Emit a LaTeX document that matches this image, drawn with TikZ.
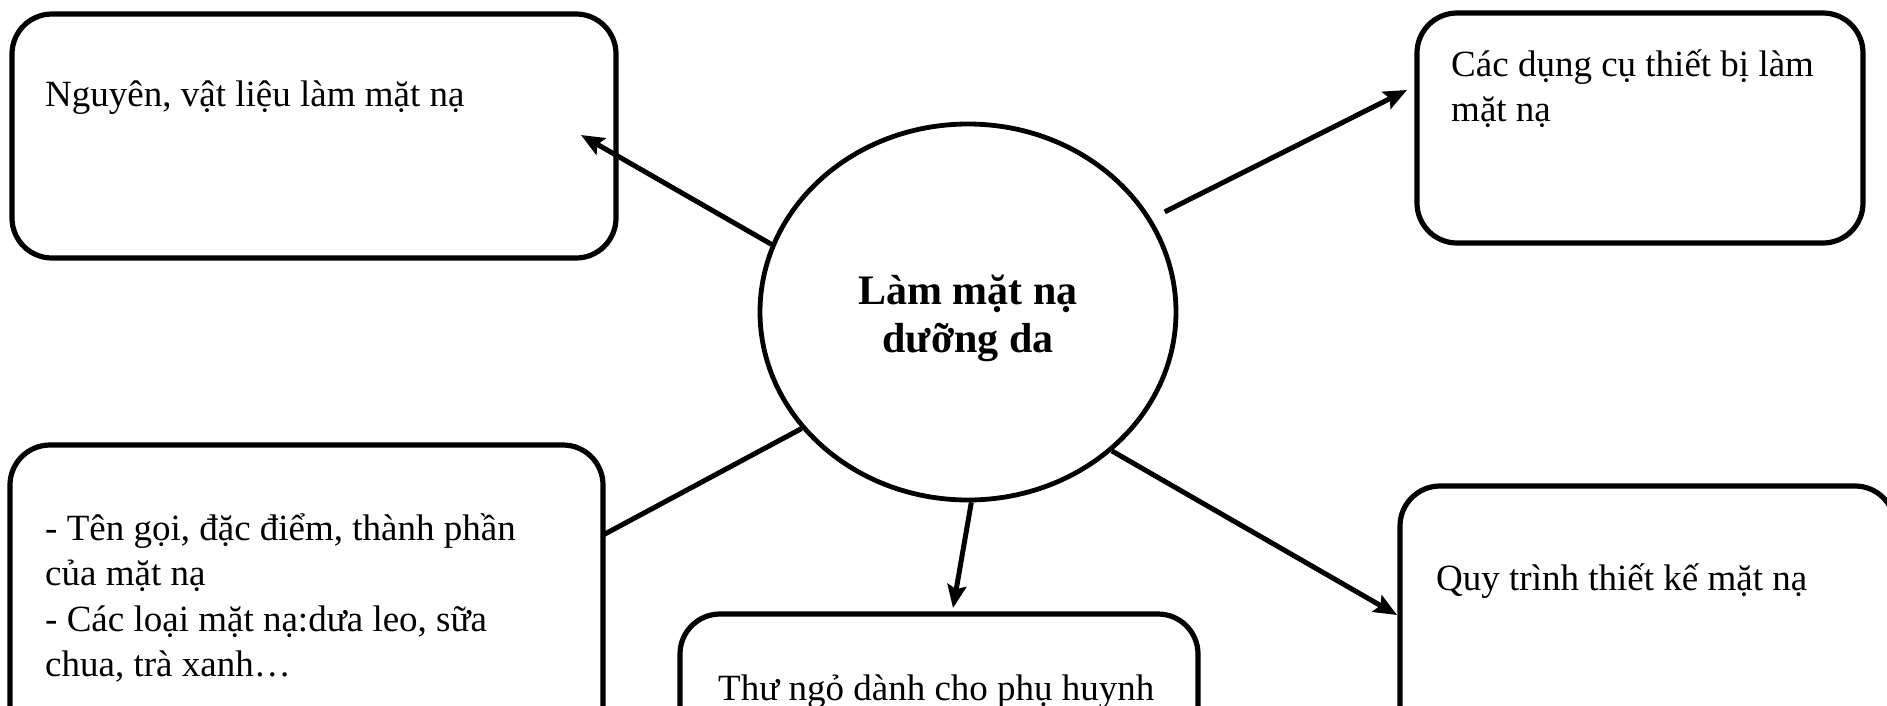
\documentclass[tikz,border=0pt]{standalone}
\usepackage{fontspec}
\setmainfont{Liberation Serif}
\usetikzlibrary{arrows.meta,shapes.geometric}
\newcommand{\mylines}[1]{\begin{tabular}[t]{@{}l@{}}#1\end{tabular}}
\begin{document}
\begin{tikzpicture}[x=1pt,y=-1pt,
  box/.style={draw, line width=5.2pt, rounded corners=40pt, inner sep=0pt, outer sep=0pt},
  txt/.style={anchor=base west, inner sep=0pt, font=\fontsize{37}{45.5}\selectfont},
  conn/.style={line width=5pt},
  arr/.style={conn, -{Stealth[length=23pt,width=19pt,inset=4pt]}}
]
\useasboundingbox (0,0) rectangle (1887,705);
\clip (0,0) rectangle (1887,705);

% boxes
\node[box, minimum width=604pt, minimum height=244pt] (b1) at (314,136) {};
\node[box, minimum width=446pt, minimum height=230pt] (b2) at (1640,128) {};
\node[box, minimum width=593pt, minimum height=315pt] (b3) at (306.5,602.5) {};
\node[box, minimum width=518pt, minimum height=166pt] (b4) at (939,697) {};
\node[box, minimum width=495pt, minimum height=314pt] (b5) at (1647.5,643) {};

% texts
\node[txt] (t1) at (45,106) {Nguyên, vật liệu làm mặt nạ};
\node[txt] (t2) at (1451,76) {\mylines{Các dụng cụ thiết bị làm\\mặt nạ}};
\node[txt] (t3) at (45,540) {\mylines{- Tên gọi, đặc điểm, thành phần\\của mặt nạ\\- Các loại mặt nạ:dưa leo, sữa\\chua, trà xanh…}};
\node[txt] (t4) at (718,700) {Thư ngỏ dành cho phụ huynh};
\node[txt] (t5) at (1436,590) {Quy trình thiết kế mặt nạ};

% centre
\node[draw, ellipse, line width=4.8pt, minimum width=416pt, minimum height=376pt,
      inner sep=0pt, align=center, font=\bfseries\fontsize{42}{48}\selectfont]
      (c) at (968,312) {\rule{0pt}{42pt}Làm mặt nạ\\dưỡng da};

% connector ends
\coordinate (e1) at (581,135);
\coordinate (e2) at (1407,90);
\coordinate (e3) at (603,535);
\coordinate (e4) at (953,608);
\coordinate (e5) at (1397,615);

\draw[arr] (c.161.8) -- (e1);
\draw[arr, shorten <=15pt] (c.27.6) -- (e2);
\draw[conn] (c.215.3) -- (e3);
\draw[arr] (c.271.2) -- (e4);
\draw[arr] (c.316.2) -- (e5);
\end{tikzpicture}
\end{document}
